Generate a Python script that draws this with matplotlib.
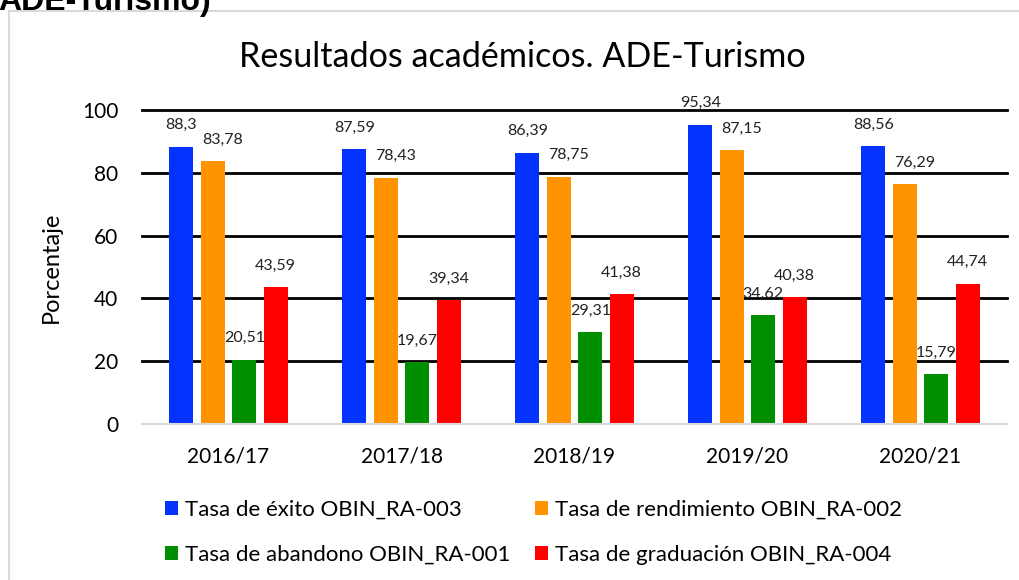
import matplotlib
matplotlib.use("Agg")
import matplotlib.pyplot as plt
from matplotlib.patches import Rectangle, Patch
import numpy as np

plt.rcParams['font.family'] = ['Lato', 'DejaVu Sans']

years = ["2016/17", "2017/18", "2018/19", "2019/20", "2020/21"]
exito = [88.3, 87.59, 86.39, 95.34, 88.56]
rendimiento = [83.78, 78.43, 78.75, 87.15, 76.29]
abandono = [20.51, 19.67, 29.31, 34.62, 15.79]
graduacion = [43.59, 39.34, 41.38, 40.38, 44.74]
series_names = ["Tasa de éxito OBIN_RA-003", "Tasa de rendimiento OBIN_RA-002",
                "Tasa de abandono OBIN_RA-001", "Tasa de graduación OBIN_RA-004"]
colors = ["#0433FF", "#FF9300", "#008F00", "#FF0000"]
yticks = [0, 20, 40, 60, 80, 100]

W, H = 1019, 580
fig = plt.figure(figsize=(W / 100, H / 100), dpi=100)

# outer chart border (partially cropped)
fig.patches.append(Rectangle((9 / W, -0.1), 1.2, 1 - 11 / H + 0.1, transform=fig.transFigure,
                             fill=False, edgecolor="#D9D9D9", linewidth=1.5))
fig.text(-2 / W, 1 - 10 / H, "ADE-Turismo)", fontsize=23, fontweight="bold",
         family=["Liberation Sans", "DejaVu Sans"], ha="left", va="baseline")

ax = fig.add_axes([142 / W, 1 - 424 / H, 865 / W, 314 / H])
x = np.arange(len(years))
data = [exito, rendimiento, abandono, graduacion]
bw = 0.139
step = 0.182
offsets = (np.arange(4) - 1.5) * step
for i, (vals, c) in enumerate(zip(data, colors)):
    ax.bar(x + offsets[i], vals, width=bw, color=c, edgecolor="none", zorder=3)
    for xi, v in zip(x + offsets[i], vals):
        dx = 7 if i == 1 else 0
        ax.annotate(f"{v:g}".replace(".", ","), (xi, v), xytext=(dx, 15.5),
                    textcoords="offset points", ha="center", va="center",
                    fontsize=11.5, color="#222222", zorder=5,
                    annotation_clip=False)

ax.set_xlim(-0.5, len(years) - 0.5)
ax.set_ylim(0, 100)
for t in yticks[1:]:
    ax.axhline(t, color="black", linewidth=2, zorder=1, clip_on=False)
ax.axhline(0, color="#D9D9D9", linewidth=1.5, zorder=4, clip_on=False)
for s in ax.spines.values():
    s.set_visible(False)
ax.set_yticks(yticks)
ax.set_xticks(x)
ax.set_xticklabels(years)
ax.tick_params(axis="both", length=0, labelsize=15, colors="black")
ax.tick_params(axis="y", pad=17)
ax.tick_params(axis="x", pad=16)
ax.set_ylabel("Porcentaje", fontsize=17)
ax.yaxis.set_label_coords(-80 / 865, 0.5)

fig.text(522 / W, 1 - 57 / H, "Resultados académicos. ADE-Turismo", fontsize=24.6,
         ha="center", va="center")

handles = [Patch(facecolor=c, edgecolor="none") for c in colors]
order = [0, 2, 1, 3]
fig.legend([handles[i] for i in order], [series_names[i] for i in order], ncol=2,
           loc="upper left", bbox_to_anchor=(165 / W, 1 - 500 / H), frameon=False,
           fontsize=16, handlelength=0.6, handleheight=0.6, handletextpad=0.3,
           columnspacing=1.1, labelspacing=1.13, borderaxespad=0, borderpad=0)

fig.savefig("out.png", dpi=100)
